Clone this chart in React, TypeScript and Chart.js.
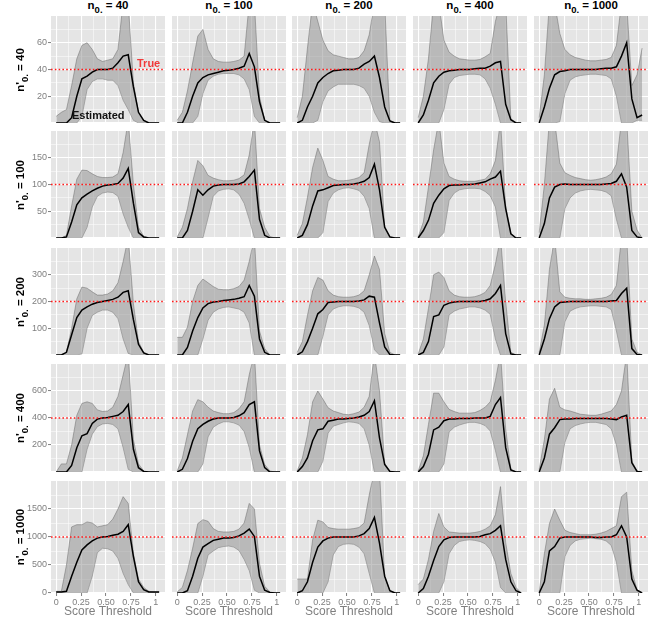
import React, { useEffect, useRef } from "react";
import { Chart, registerables } from "chart.js";
Chart.register(...registerables);

// ---------- data ----------
const THRESHOLDS = [0, 0.052, 0.103, 0.155, 0.207, 0.258, 0.31, 0.362, 0.413, 0.465, 0.517, 0.568, 0.62, 0.672, 0.723, 0.775, 0.826, 0.878, 0.93, 0.982, 1.033];
const TRUE_N = [40, 100, 200, 400, 1000]; // rows: n'0.
const SAMPLE_N = [40, 100, 200, 400, 1000]; // columns: n0.
const Y_MAX = [80, 200, 400, 800, 2000];
const Y_TICK_LABELS = [[20, 40, 60], [50, 100, 150], [100, 200, 300], [200, 400, 600], [0, 500, 1000, 1500]];
const X_TICKS = [0, 0.25, 0.5, 0.75, 1];
const X_TICK_TEXT = ["0", "0.25", "0.50", "0.75", "1"];

// n'0. = 40
const EST_T40_N40 = [0, 0, 0, 4, 20, 33, 35, 38, 40, 40, 40, 41, 45, 50, 51, 27, 8, 2, 0, 0, 0];
const HI_T40_N40 = [5, 8, 10, 28, 48, 58, 60, 55, 48, 46, 47, 48, 55, 90, 90, 30, 8, 2, 0, 0, 0];
const LO_T40_N40 = [0, 0, 0, 0, 0, 5, 25, 31, 33, 33, 32, 32, 28, 17, 10, 2, 0, 0, 0, 0, 0];
const EST_T40_N100 = [0, 0, 8, 20, 30, 34, 36, 37, 38, 39, 39.5, 40, 41, 42.5, 52, 42, 16, 2, 0, 0, 0];
const HI_T40_N100 = [2, 8, 24, 45, 65, 70, 55, 48, 46, 45.5, 45.5, 46, 47, 50, 90, 90, 20, 2, 0, 0, 0];
const LO_T40_N100 = [0, 0, 0, 0, 5, 22, 32, 35, 36.5, 37, 37, 37, 36, 33, 25, 5, 0, 0, 0, 0, 0];
const EST_T40_N200 = [0, 2, 12, 20, 30, 34, 37, 39, 39.5, 40, 40, 40, 41, 44, 46, 50, 34, 12, 1.5, 0, 0];
const HI_T40_N200 = [4, 20, 56, 90, 76, 62, 54, 51, 50, 49, 48, 48, 49, 54, 66, 90, 90, 90, 2, 0, 0];
const LO_T40_N200 = [0, 0, 0, 0, 2, 16, 24, 27, 29, 29, 29, 29, 28, 26, 20, 8, 1, 0, 0, 0, 0];
const EST_T40_N400 = [0, 6, 17, 30, 35, 38, 39, 39.5, 40, 40, 40, 40.5, 41, 41, 42.5, 45, 46, 14, 2.5, 0, 0];
const HI_T40_N400 = [4, 20, 48, 90, 90, 62, 53, 50, 48, 47.5, 47, 47, 47.5, 49.5, 52, 76, 90, 90, 3, 0, 0];
const LO_T40_N400 = [0, 0, 0, 0, 0, 10, 29, 34, 35.5, 36, 36.5, 36.5, 36, 33, 26, 14, 0, 0, 0, 0, 0];
const EST_T40_N1000 = [0, 12, 26, 36, 38.5, 39, 40, 40, 40, 40, 40, 40, 40.5, 41, 41, 42, 50, 60, 18, 4, 6];
const HI_T40_N1000 = [4, 36, 90, 90, 67, 55, 51, 49, 48, 47, 46.5, 46.5, 47, 47.5, 49, 58, 90, 90, 28, 36, 56];
const LO_T40_N1000 = [0, 0, 0, 0, 1, 22, 32, 34.5, 35.5, 36, 36.5, 36.5, 36, 35.5, 33, 20, 0, 0, 0, 2, 2];

// n'0. = 100
const EST_T100_N40 = [0, 0, 2, 30, 62, 75, 82, 88, 93, 97, 99, 100, 102, 112, 130, 65, 10, 2, 0, 0, 0];
const HI_T100_N40 = [0, 0, 5, 60, 110, 127, 126, 120, 115, 113, 113, 114, 120, 160, 220, 100, 20, 3, 0, 0, 0];
const LO_T100_N40 = [0, 0, 0, 0, 0, 0, 20, 58, 78, 84, 86, 85, 78, 45, 20, 0, 0, 0, 0, 0, 0];
const EST_T100_N100 = [0, 0, 14, 50, 90, 80, 90, 97, 99, 100, 100, 100, 101, 105, 115, 127, 35, 5, 0, 0, 0];
const HI_T100_N100 = [2, 20, 55, 105, 145, 135, 117, 112, 109, 107, 107, 108, 111, 118, 155, 220, 55, 20, 3, 0, 0];
const LO_T100_N100 = [0, 0, 0, 0, 0, 0, 38, 78, 88, 91, 92, 90, 82, 65, 35, 0, 0, 0, 0, 0, 0];
const EST_T100_N200 = [0, 5, 25, 60, 88, 90, 94, 98, 99, 100, 100, 101, 103, 106, 113, 138, 90, 20, 2, 0, 0];
const HI_T100_N200 = [5, 27, 76, 132, 168, 145, 115, 110, 107, 107, 108, 110, 113, 122, 175, 220, 180, 22, 2, 0, 0];
const LO_T100_N200 = [0, 0, 0, 0, 0, 10, 68, 84, 90, 93, 94, 92, 89, 78, 55, 0, 0, 0, 0, 0, 0];
const EST_T100_N400 = [0, 14, 33, 65, 80, 92, 98, 99, 99, 100, 100, 101, 103, 105, 110, 114, 125, 55, 8, 0, 0];
const HI_T100_N400 = [2, 30, 95, 165, 220, 140, 115, 110, 107, 106, 106, 106, 108, 110, 120, 145, 220, 60, 8, 0, 0];
const LO_T100_N400 = [0, 0, 0, 0, 0, 10, 70, 84, 90, 92, 93, 93, 92, 87, 79, 58, 0, 0, 0, 0, 0];
const EST_T100_N1000 = [0, 27, 75, 95, 100, 101, 100, 100, 100, 100, 100, 100, 100, 101, 102, 106, 120, 95, 14, 2, 0];
const HI_T100_N1000 = [10, 100, 220, 220, 140, 122, 117, 113, 111, 109, 108, 109, 111, 114, 120, 138, 220, 220, 50, 15, 0];
const LO_T100_N1000 = [0, 0, 0, 0, 0, 55, 75, 84, 88, 90, 91, 90, 89, 86, 79, 35, 0, 0, 0, 0, 0];

// n'0. = 200
const EST_T200_N40 = [0, 0, 10, 76, 140, 168, 180, 190, 196, 200, 204, 208, 216, 234, 240, 132, 40, 8, 0, 0, 0];
const HI_T200_N40 = [0, 0, 10, 100, 210, 254, 250, 236, 224, 224, 228, 240, 270, 350, 440, 192, 50, 10, 0, 0, 0];
const LO_T200_N40 = [0, 0, 0, 0, 0, 4, 100, 148, 160, 168, 168, 160, 136, 60, 6, 0, 0, 0, 0, 0, 0];
const EST_T200_N100 = [0, 0, 28, 90, 140, 176, 192, 198, 200, 204, 206, 208, 212, 218, 260, 220, 60, 10, 0, 0, 0];
const HI_T200_N100 = [66, 66, 104, 200, 260, 284, 270, 256, 246, 244, 244, 248, 256, 280, 350, 440, 90, 24, 0, 0, 0];
const LO_T200_N100 = [0, 0, 0, 0, 0, 60, 130, 160, 172, 178, 180, 176, 172, 160, 120, 0, 0, 0, 0, 0, 0];
const EST_T200_N200 = [0, 12, 50, 100, 154, 170, 196, 198, 200, 200, 200, 200, 202, 206, 220, 216, 120, 30, 2, 0, 0];
const HI_T200_N200 = [10, 50, 148, 240, 290, 280, 240, 224, 218, 216, 216, 218, 224, 240, 300, 370, 320, 80, 10, 0, 0];
const LO_T200_N200 = [0, 0, 0, 0, 0, 70, 150, 172, 180, 184, 184, 182, 176, 160, 110, 20, 0, 0, 0, 0, 0];
const EST_T200_N400 = [0, 10, 50, 144, 150, 186, 194, 198, 200, 200, 200, 200, 200, 204, 210, 230, 260, 80, 4, 0, 0];
const HI_T200_N400 = [4, 60, 174, 300, 310, 290, 240, 224, 218, 216, 216, 218, 224, 234, 260, 340, 440, 200, 10, 0, 0];
const LO_T200_N400 = [0, 0, 0, 0, 0, 30, 150, 164, 172, 176, 180, 180, 176, 168, 152, 60, 0, 0, 0, 0, 0];
const EST_T200_N1000 = [0, 60, 136, 180, 196, 198, 200, 200, 200, 200, 200, 200, 200, 200, 202, 204, 230, 250, 24, 2, 0];
const HI_T200_N1000 = [10, 112, 320, 440, 236, 216, 212, 210, 210, 208, 208, 210, 212, 216, 226, 260, 440, 440, 60, 10, 0];
const LO_T200_N1000 = [0, 0, 0, 0, 0, 124, 164, 174, 180, 182, 184, 184, 182, 180, 170, 90, 0, 0, 0, 0, 0];

// n'0. = 400
const EST_T400_N40 = [0, 0, 0, 48, 180, 268, 284, 360, 392, 400, 404, 412, 420, 448, 500, 168, 32, 4, 0, 0, 0];
const HI_T400_N40 = [0, 60, 60, 200, 420, 508, 520, 508, 460, 448, 452, 480, 560, 720, 880, 240, 60, 8, 0, 0, 0];
const LO_T400_N40 = [0, 0, 0, 0, 0, 0, 168, 280, 336, 356, 360, 352, 320, 180, 20, 0, 0, 0, 0, 0, 0];
const EST_T400_N100 = [0, 20, 100, 228, 320, 352, 376, 392, 400, 400, 400, 404, 416, 440, 500, 520, 156, 32, 0, 0, 0];
const HI_T400_N100 = [8, 104, 276, 452, 536, 520, 480, 452, 440, 432, 432, 440, 468, 520, 720, 880, 200, 56, 8, 0, 0];
const LO_T400_N100 = [0, 0, 0, 0, 0, 60, 260, 332, 356, 372, 372, 364, 348, 300, 180, 0, 0, 0, 0, 0, 0];
const EST_T400_N200 = [0, 40, 104, 232, 312, 320, 376, 384, 392, 392, 396, 400, 408, 420, 448, 528, 252, 56, 4, 0, 0];
const HI_T400_N200 = [8, 104, 276, 520, 600, 540, 476, 452, 440, 428, 424, 432, 444, 480, 560, 880, 600, 64, 8, 0, 0];
const LO_T400_N200 = [0, 0, 0, 0, 0, 80, 288, 340, 352, 364, 372, 368, 360, 320, 200, 0, 0, 0, 0, 0, 0];
const EST_T400_N400 = [0, 40, 132, 312, 332, 380, 392, 392, 396, 396, 396, 400, 400, 400, 412, 500, 552, 180, 16, 0, 0];
const HI_T400_N400 = [8, 120, 352, 584, 584, 520, 464, 448, 436, 436, 436, 440, 456, 480, 520, 680, 880, 320, 20, 0, 0];
const LO_T400_N400 = [0, 0, 0, 0, 0, 60, 296, 332, 348, 360, 368, 368, 360, 344, 304, 160, 0, 0, 0, 0, 0];
const EST_T400_N1000 = [0, 104, 280, 328, 388, 392, 392, 396, 396, 396, 396, 396, 396, 396, 392, 388, 408, 420, 68, 4, 0];
const HI_T400_N1000 = [20, 240, 540, 620, 480, 460, 452, 440, 428, 424, 420, 420, 428, 440, 452, 500, 600, 880, 80, 8, 0];
const LO_T400_N1000 = [0, 0, 0, 0, 0, 220, 320, 344, 356, 364, 368, 368, 360, 352, 320, 200, 0, 0, 0, 0, 0];

// n'0. = 1000
const EST_T1000_N40 = [20, 20, 30, 300, 550, 770, 860, 930, 980, 1000, 1010, 1030, 1050, 1100, 1220, 650, 200, 60, 20, 20, 20];
const HI_T1000_N40 = [30, 30, 500, 1180, 1220, 1220, 1270, 1250, 1180, 1200, 1220, 1320, 1500, 1720, 1600, 710, 250, 100, 30, 20, 20];
const LO_T1000_N40 = [0, 0, 0, 0, 0, 0, 0, 300, 720, 800, 790, 750, 620, 350, 150, 0, 0, 0, 0, 0, 0];
const EST_T1000_N100 = [0, 0, 40, 300, 620, 820, 880, 940, 960, 980, 980, 990, 1020, 1070, 1140, 1010, 300, 50, 10, 0, 0];
const HI_T1000_N100 = [20, 100, 400, 800, 1240, 1310, 1280, 1150, 1100, 1090, 1090, 1100, 1140, 1250, 1600, 1500, 530, 120, 20, 0, 0];
const LO_T1000_N100 = [0, 0, 0, 0, 0, 300, 680, 750, 810, 830, 840, 820, 760, 600, 400, 50, 0, 0, 0, 0, 0];
const EST_T1000_N200 = [0, 40, 200, 550, 820, 930, 980, 1000, 1000, 1000, 1000, 1000, 1020, 1060, 1150, 1350, 890, 300, 40, 0, 0];
const HI_T1000_N200 = [250, 250, 250, 950, 1300, 1270, 1170, 1150, 1140, 1140, 1140, 1150, 1170, 1250, 1750, 2200, 2200, 300, 40, 0, 0];
const LO_T1000_N200 = [0, 0, 0, 0, 0, 0, 200, 680, 830, 870, 880, 870, 820, 700, 350, 0, 0, 0, 0, 0, 0];
const EST_T1000_N400 = [0, 80, 300, 580, 830, 950, 990, 1000, 1000, 1000, 1000, 1000, 1010, 1040, 1060, 1120, 1200, 600, 200, 40, 0];
const HI_T1000_N400 = [150, 250, 600, 1100, 1420, 1180, 1090, 1080, 1070, 1070, 1070, 1080, 1100, 1140, 1200, 1400, 1900, 900, 350, 100, 0];
const LO_T1000_N400 = [0, 0, 0, 0, 0, 200, 700, 850, 920, 940, 950, 940, 920, 880, 780, 550, 100, 0, 0, 0, 0];
const EST_T1000_N1000 = [0, 200, 750, 830, 980, 1000, 1000, 1000, 1000, 1000, 1000, 990, 990, 1000, 1000, 1040, 1200, 1000, 250, 50, 0];
const HI_T1000_N1000 = [20, 700, 1240, 1500, 1300, 1120, 1080, 1060, 1040, 1040, 1040, 1050, 1070, 1100, 1150, 1200, 1720, 1800, 400, 60, 0];
const LO_T1000_N1000 = [0, 0, 0, 0, 0, 650, 850, 930, 960, 970, 980, 970, 960, 930, 850, 550, 0, 0, 0, 0, 0];

const EST = [
  [EST_T40_N40, EST_T40_N100, EST_T40_N200, EST_T40_N400, EST_T40_N1000],
  [EST_T100_N40, EST_T100_N100, EST_T100_N200, EST_T100_N400, EST_T100_N1000],
  [EST_T200_N40, EST_T200_N100, EST_T200_N200, EST_T200_N400, EST_T200_N1000],
  [EST_T400_N40, EST_T400_N100, EST_T400_N200, EST_T400_N400, EST_T400_N1000],
  [EST_T1000_N40, EST_T1000_N100, EST_T1000_N200, EST_T1000_N400, EST_T1000_N1000],
];
const HI = [
  [HI_T40_N40, HI_T40_N100, HI_T40_N200, HI_T40_N400, HI_T40_N1000],
  [HI_T100_N40, HI_T100_N100, HI_T100_N200, HI_T100_N400, HI_T100_N1000],
  [HI_T200_N40, HI_T200_N100, HI_T200_N200, HI_T200_N400, HI_T200_N1000],
  [HI_T400_N40, HI_T400_N100, HI_T400_N200, HI_T400_N400, HI_T400_N1000],
  [HI_T1000_N40, HI_T1000_N100, HI_T1000_N200, HI_T1000_N400, HI_T1000_N1000],
];
const LO = [
  [LO_T40_N40, LO_T40_N100, LO_T40_N200, LO_T40_N400, LO_T40_N1000],
  [LO_T100_N40, LO_T100_N100, LO_T100_N200, LO_T100_N400, LO_T100_N1000],
  [LO_T200_N40, LO_T200_N100, LO_T200_N200, LO_T200_N400, LO_T200_N1000],
  [LO_T400_N40, LO_T400_N100, LO_T400_N200, LO_T400_N400, LO_T400_N1000],
  [LO_T1000_N40, LO_T1000_N100, LO_T1000_N200, LO_T1000_N400, LO_T1000_N1000],
];

// ---------- layout / style ----------
const FONT = '"Liberation Sans", Arial, Helvetica, sans-serif';
const COL_LEFT = [51, 172, 292, 413, 534];
const PANEL_W = 114;
const ROW_TOP = [16, 131, 248, 364, 481];
const ROW_H = [107, 107, 107, 108, 112];
const Y_AXIS_W = 51;
const X_AXIS_H = 28;
const X_MIN = -0.052;
const X_MAX = 1.092;
const AXIS_GREY = "#7f7f7f";

const panelBg = {
  id: "panelBg",
  beforeDraw(chart: any) {
    const { ctx, chartArea } = chart;
    ctx.save();
    ctx.fillStyle = "#E5E5E5";
    ctx.fillRect(chartArea.left, chartArea.top, chartArea.right - chartArea.left, chartArea.bottom - chartArea.top);
    ctx.restore();
  },
};

function makeTrueLine(trueVal: number) {
  return {
    id: "trueLine",
    afterDatasetsDraw(chart: any) {
      const { ctx, chartArea, scales } = chart;
      const y = scales.y.getPixelForValue(trueVal);
      ctx.save();
      ctx.strokeStyle = "#ff1a1a";
      ctx.lineWidth = 1.4;
      ctx.setLineDash([1.6, 2.2]);
      ctx.beginPath();
      ctx.moveTo(chartArea.left, y);
      ctx.lineTo(chartArea.right, y);
      ctx.stroke();
      ctx.restore();
    },
  };
}

function Panel({ r, c }: { r: number; c: number }) {
  const ref = useRef<HTMLCanvasElement | null>(null);
  const isLeft = c === 0;
  const isBottom = r === 4;
  const w = PANEL_W + (isLeft ? Y_AXIS_W : 0);
  const h = ROW_H[r] + (isBottom ? X_AXIS_H : 0);

  useEffect(() => {
    const pts = (arr: number[]) => THRESHOLDS.map((x, i) => ({ x, y: arr[i] }));
    const yLabels = Y_TICK_LABELS[r];
    const yStep = (yLabels[1] - yLabels[0]) / 2;
    const yGrid: number[] = [];
    for (let v = 0; v <= Y_MAX[r] + 1e-9; v += yStep) yGrid.push(v);
    const xGrid: number[] = [];
    for (let v = 0; v <= 1 + 1e-9; v += 0.125) xGrid.push(v);
    const isMajorX = (v: number) => X_TICKS.some((t) => Math.abs(t - v) < 1e-6);
    const isMajorY = (v: number) => Math.abs(v / (yStep * 2) - Math.round(v / (yStep * 2))) < 1e-6;
    const isLabelY = (v: number) => yLabels.some((t) => Math.abs(t - v) < 1e-6);

    const bandEdge = "rgba(95,95,95,0.75)";
    const chart = new Chart(ref.current as HTMLCanvasElement, {
      type: "line",
      data: {
        datasets: [
          { data: pts(LO[r][c]), order: 3, borderColor: bandEdge, borderWidth: 0.6, pointRadius: 0, fill: false, tension: 0 },
          {
            data: pts(HI[r][c]),
            order: 2,
            borderColor: bandEdge,
            borderWidth: 0.6,
            pointRadius: 0,
            fill: "-1",
            backgroundColor: "rgba(150,150,150,0.55)",
            tension: 0,
          },
          { data: pts(EST[r][c]), order: 0, borderColor: "#000000", borderWidth: 1.5, pointRadius: 0, fill: false, tension: 0 },
        ],
      },
      options: {
        animation: false,
        responsive: false,
        maintainAspectRatio: false,
        events: [],
        layout: { padding: 0, autoPadding: false },
        plugins: { legend: { display: false }, tooltip: { enabled: false } },
        scales: {
          x: {
            type: "linear",
            min: X_MIN,
            max: X_MAX,
            afterBuildTicks: (s: any) => {
              s.ticks = xGrid.map((v) => ({ value: v }));
            },
            afterFit: (s: any) => {
              s.height = isBottom ? X_AXIS_H : 0;
              s.paddingLeft = 0;
              s.paddingRight = 0;
              s.paddingTop = 0;
              s.paddingBottom = 0;
            },
            border: { display: false },
            grid: {
              color: "#ffffff",
              lineWidth: (ctx: any) => (ctx.tick && isMajorX(ctx.tick.value) ? 1.1 : 0.5),
              drawTicks: isBottom,
              tickLength: 3,
              tickWidth: 1,
              tickColor: (ctx: any) => (ctx.tick && isMajorX(ctx.tick.value) ? AXIS_GREY : "rgba(0,0,0,0)"),
            },
            ticks: {
              display: isBottom,
              autoSkip: false,
              maxRotation: 0,
              minRotation: 0,
              padding: 1,
              color: AXIS_GREY,
              font: { family: FONT, size: 9 },
              callback: (v: any) => {
                const i = X_TICKS.findIndex((t) => Math.abs(t - v) < 1e-6);
                return i >= 0 ? X_TICK_TEXT[i] : "";
              },
            },
            title: {
              display: isBottom,
              text: "Score Threshold",
              color: AXIS_GREY,
              font: { family: FONT, size: 12 },
              padding: { top: 0, bottom: 2 },
            },
          },
          y: {
            type: "linear",
            min: 0,
            max: Y_MAX[r],
            afterBuildTicks: (s: any) => {
              s.ticks = yGrid.map((v) => ({ value: v }));
            },
            afterFit: (s: any) => {
              s.width = isLeft ? Y_AXIS_W : 0;
              s.paddingLeft = 0;
              s.paddingRight = 0;
              s.paddingTop = 0;
              s.paddingBottom = 0;
            },
            border: { display: false },
            grid: {
              color: "#ffffff",
              lineWidth: (ctx: any) => (ctx.tick && isMajorY(ctx.tick.value) ? 1.1 : 0.5),
              drawTicks: isLeft,
              tickLength: 3,
              tickWidth: 1,
              tickColor: (ctx: any) => (ctx.tick && isLabelY(ctx.tick.value) ? AXIS_GREY : "rgba(0,0,0,0)"),
            },
            ticks: {
              display: isLeft,
              autoSkip: false,
              padding: 1,
              color: AXIS_GREY,
              font: { family: FONT, size: 9 },
              callback: (v: any) => (isLabelY(Number(v)) ? String(v) : ""),
            },
          },
        },
      },
      plugins: [panelBg, makeTrueLine(TRUE_N[r])],
    } as any);
    return () => chart.destroy();
  }, [r, c]);

  return (
    <canvas
      ref={ref}
      width={w}
      height={h}
      style={{
        position: "absolute",
        left: isLeft ? COL_LEFT[0] - Y_AXIS_W : COL_LEFT[c],
        top: ROW_TOP[r],
        width: w,
        height: h,
      }}
    />
  );
}

export default function App() {
  const cells: any[] = [];
  for (let r = 0; r < 5; r++) for (let c = 0; c < 5; c++) cells.push(<Panel key={`${r}-${c}`} r={r} c={c} />);
  const subStyle: React.CSSProperties = { fontSize: 9.5, position: "relative", top: 4, verticalAlign: "baseline" };
  return (
    <div style={{ position: "fixed", left: 0, top: 0, width: 660, height: 621, background: "#ffffff", overflow: "hidden" }}>
      {cells}
      {SAMPLE_N.map((n, c) => (
        <div
          key={`top-${c}`}
          style={{
            position: "absolute",
            left: COL_LEFT[c],
            width: PANEL_W,
            top: -1,
            textAlign: "center",
            fontFamily: FONT,
            fontWeight: "bold",
            fontSize: 11.5,
            lineHeight: "13px",
            color: "#000",
            whiteSpace: "nowrap",
          }}
        >
          n<span style={subStyle}>0.</span> = {n}
        </div>
      ))}
      {TRUE_N.map((n, r) => (
        <div
          key={`left-${r}`}
          style={{
            position: "absolute",
            left: 20,
            top: ROW_TOP[r] + ROW_H[r] / 2,
            transform: "translate(-50%, -50%) rotate(-90deg)",
            fontFamily: FONT,
            fontWeight: "bold",
            fontSize: 11.5,
            lineHeight: "13px",
            color: "#000",
            whiteSpace: "nowrap",
          }}
        >
          n'<span style={subStyle}>0.</span> = {n}
        </div>
      ))}
      <div
        style={{
          position: "absolute",
          left: 137,
          top: 57,
          fontFamily: FONT,
          fontWeight: "bold",
          fontSize: 11,
          lineHeight: "13px",
          color: "#f03a3a",
        }}
      >
        True
      </div>
      <div
        style={{
          position: "absolute",
          left: 72,
          top: 109,
          fontFamily: FONT,
          fontWeight: "bold",
          fontSize: 11,
          lineHeight: "13px",
          color: "#111",
        }}
      >
        Estimated
      </div>
    </div>
  );
}
